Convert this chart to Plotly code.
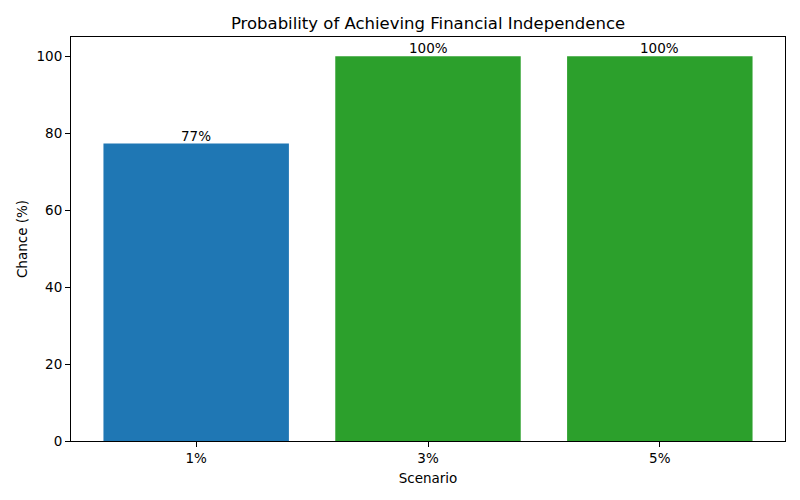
import plotly.graph_objects as go

scenarios = ["1%", "3%", "5%"]
chances = [77.3, 100.0, 100.0]
labels = ["77%", "100%", "100%"]
colors = ["#1f77b4", "#2ca02c", "#2ca02c"]
y_ticks = [0, 20, 40, 60, 80, 100]

xs = list(range(len(scenarios)))
font = "DejaVu Sans"

fig = go.Figure()
fig.add_trace(go.Bar(x=xs, y=chances, width=0.8, marker=dict(color=colors, line=dict(width=0)),
                     hoverinfo="skip"))

for x, y, t in zip(xs, chances, labels):
    fig.add_annotation(x=x, y=y, text=t, showarrow=False, yanchor="bottom", yshift=-2,
                       font=dict(family=font, size=13.5, color="black"))

axis_common = dict(showline=True, linecolor="black", linewidth=1, mirror=True,
                   ticks="outside", ticklen=5, tickcolor="black", showgrid=False,
                   zeroline=False, tickfont=dict(family=font, size=13.5, color="black"))

fig.update_layout(
    width=800, height=500,
    margin=dict(l=71, r=15, t=37, b=59),
    paper_bgcolor="white", plot_bgcolor="white",
    showlegend=False,
    title=dict(text="Probability of Achieving Financial Independence", x=428 / 800,
               xanchor="center", y=1 - 23 / 500, yanchor="middle",
               font=dict(family=font, size=16.5, color="black")),
    xaxis=dict(range=[-0.54, 2.54], tickvals=xs, ticktext=scenarios,
               title=dict(text="Scenario", standoff=8, font=dict(family=font, size=13.5, color="black")),
               **axis_common),
    yaxis=dict(range=[0, 105], tickvals=y_ticks,
               title=dict(text="Chance (%)", standoff=5, font=dict(family=font, size=13.5, color="black")),
               **axis_common),
)

fig.write_html("out.html", post_script="document.body.style.margin='0';",
               config={"displayModeBar": False})
